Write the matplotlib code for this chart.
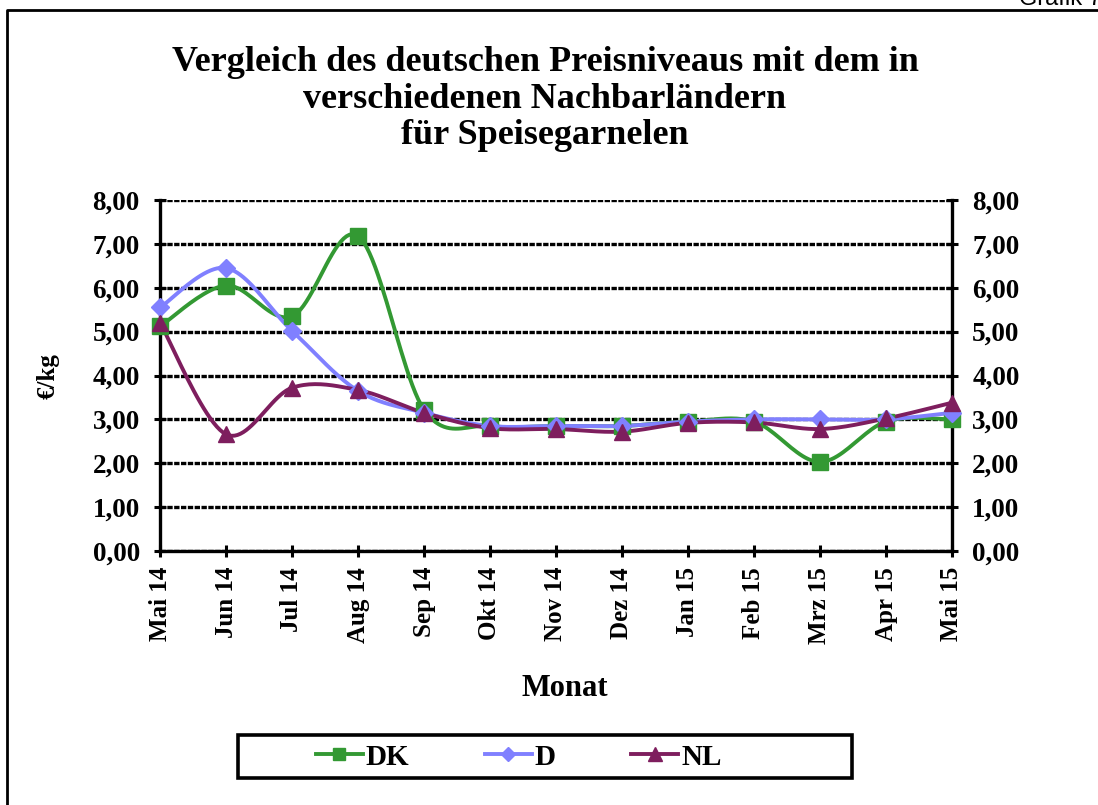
import numpy as np
import matplotlib
matplotlib.use('Agg')
import matplotlib.pyplot as plt
from matplotlib.lines import Line2D
from matplotlib.patches import Rectangle

# data (EUR/kg)
months = ['Mai 14', 'Jun 14', 'Jul 14', 'Aug 14', 'Sep 14', 'Okt 14', 'Nov 14',
          'Dez 14', 'Jan 15', 'Feb 15', 'Mrz 15', 'Apr 15', 'Mai 15']
dk = [5.12, 6.05, 5.35, 7.18, 3.22, 2.85, 2.85, 2.85, 2.95, 2.95, 2.03, 2.95, 3.00]
d = [5.55, 6.45, 5.02, 3.65, 3.15, 2.85, 2.85, 2.85, 2.95, 3.00, 3.00, 3.00, 3.15]
nl = [5.20, 2.66, 3.72, 3.67, 3.15, 2.80, 2.78, 2.72, 2.92, 2.93, 2.78, 3.02, 3.38]

plt.rcParams['font.family'] = 'Liberation Serif'
plt.rcParams['font.weight'] = 'bold'


def smooth(x, y, n=24):
    # Excel style smoothed line (bezier through the points)
    p = np.column_stack([x, y]).astype(float)
    p = np.vstack([p[0], p, p[-1]])
    out = []
    for i in range(1, len(p) - 2):
        p0, p1, p2, p3 = p[i - 1], p[i], p[i + 1], p[i + 2]
        c1 = p1 + (p2 - p0) / 6
        c2 = p2 - (p3 - p1) / 6
        t = np.linspace(0, 1, n)[:, None]
        seg = (1 - t) ** 3 * p1 + 3 * (1 - t) ** 2 * t * c1 + 3 * (1 - t) * t ** 2 * c2 + t ** 3 * p2
        out.append(seg if i == 1 else seg[1:])
    out = np.vstack(out)
    return out[:, 0], out[:, 1]


fig = plt.figure(figsize=(10.98, 8.05), dpi=100)
ax = fig.add_axes([160 / 1098, 1 - 551 / 805, 792 / 1098, 351 / 805])

x = np.arange(len(months))
series = [('DK', dk, '#339933', 's', 11.5),
          ('D', d, '#8080FF', 'D', 9),
          ('NL', nl, '#7E1E5E', '^', 12)]
handles = []
for name, vals, col, mk, ms in series:
    sx, sy = smooth(x, vals)
    ax.plot(sx, sy, color=col, lw=2.8, zorder=3, clip_on=False)
    ax.plot(x, vals, ls='none', marker=mk, ms=ms, color=col, zorder=4, clip_on=False)
    handles.append(Line2D([], [], color=col, lw=2.8, marker=mk, ms=ms * 0.8))

ax.set_xlim(0, len(months) - 1)
ax.set_ylim(0, 8)
ax.set_yticks(np.arange(0, 9))
ax.set_yticklabels([f'{v:.2f}'.replace('.', ',') for v in range(9)])
ax.set_xticks(x)
ax.set_xticklabels(months, rotation=90)
ax.yaxis.grid(True, color='black', lw=2.4, ls=(0, (1.6, 0.45)))
ax.set_axisbelow(True)

for s in ['left', 'bottom', 'right']:
    ax.spines[s].set_linewidth(2.4)
ax.spines['top'].set_visible(False)
ax.tick_params(axis='both', direction='inout', length=9, width=2.2)
ax.tick_params(axis='y', right=True, labelright=True, pad=10, labelsize=19.5)
ax.tick_params(axis='x', pad=7, labelsize=18)

fig.text(565 / 1098, 1 - 688 / 805, 'Monat', ha='center', va='center', fontsize=22, fontweight='bold')
fig.text(48 / 1098, 1 - 376 / 805, '€/kg', rotation=90, ha='center', va='center',
         fontsize=18, fontweight='bold')

fig.text(545 / 1098, 1 - 99 / 805,
         'Vergleich des deutschen Preisniveaus mit dem in\nverschiedenen Nachbarländern\nfür Speisegarnelen',
         ha='center', va='center', fontsize=26, fontweight='bold', linespacing=1.13)

# legend with a box like the original
fig.add_artist(Rectangle((238 / 1098, 1 - 778 / 805), 614 / 1098, 43 / 805, transform=fig.transFigure,
                         fill=False, edgecolor='black', lw=2.6))
fig.legend(handles, ['DK', 'D', 'NL'], loc='center left', bbox_to_anchor=(316 / 1098, 1 - 757 / 805),
           ncol=3, frameon=False, fontsize=21, borderpad=0, borderaxespad=0,
           handlelength=1.6, handletextpad=0.1, columnspacing=2.6)

# outer frame and page label
fig.add_artist(Line2D([7 / 1098, 7 / 1098, 1], [0, 1 - 10 / 805, 1 - 10 / 805],
                      color='black', lw=2, transform=fig.transFigure))
fig.text(1102 / 1098, 1 - 5 / 805, 'Grafik 7', ha='right', va='baseline',
         fontsize=17, fontweight='normal', family='Liberation Sans')

fig.savefig('out.png', dpi=100)
